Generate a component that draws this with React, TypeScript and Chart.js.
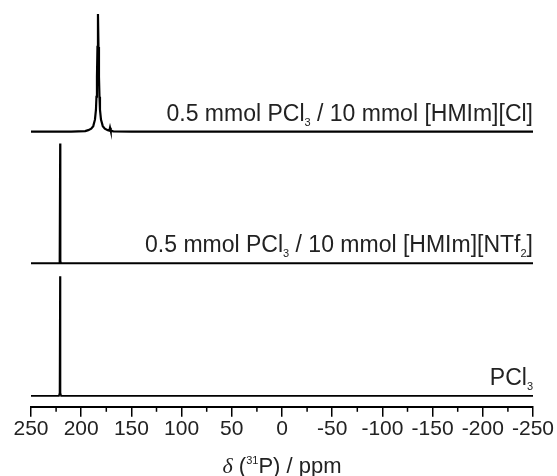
import { useEffect, useRef } from "react";
import { Chart, registerables } from "chart.js";

Chart.register(...registerables);

// Axis ticks (ppm)
const xTicks = [250, 200, 150, 100, 50, 0, -50, -100, -150, -200, -250];
const minorTicks = [225, 175, 125, 75, 25, -25, -75, -125, -175, -225];

// Spectrum 1: 0.5 mmol PCl3 / 10 mmol [HMIm][Cl] (top)
const ppmCl = [250, 230, 210, 196, 193, 190, 188, 186.3, 185.3, 184.8, 184.3, 183.8, 183.3, 182.8, 182.3, 181.8, 181.3, 180.3, 178.5, 176.5, 173.5, 172, 171.3, 170.6, 168, 150, 100, 50, 0, -50, -100, -150, -200, -250];
const intCl = [0, 0, 0, 0.5, 1.5, 3, 5.5, 12, 22, 35, 55, 85, 118, 85, 55, 35, 22, 12, 5.5, 3, 1.5, 1, 4, 1, 0.3, 0, 0, 0, 0, 0, 0, 0, 0, 0];

// Spectrum 2: 0.5 mmol PCl3 / 10 mmol [HMIm][NTf2] (middle)
const ppmNTf2 = [250, 222, 221.6, 221.1, 220.6, 220, -250];
const intNTf2 = [0, 0, 2, 120, 2, 0, 0];

// Spectrum 3: neat PCl3 (bottom)
const ppmPCl3 = [250, 222.2, 221.5, 221.1, 220.7, 220, -250];
const intPCl3 = [0, 0, 3, 120, 3, 0, 0];

// Vertical stacking offsets (intensity units)
const offsetCl = 276;
const offsetNTf2 = 144;
const offsetPCl3 = 11;

const SANS = '"Liberation Sans", Arial, Helvetica, sans-serif';
const SERIF = '"Liberation Serif", "Times New Roman", serif';
const TEXT_COLOR = "#222";

type Seg = { text: string; font: string; dy?: number };

const labelCl: Seg[] = [
  { text: "0.5 mmol PCl", font: `23px ${SANS}` },
  { text: "3", font: `11px ${SANS}`, dy: 5 },
  { text: " / 10 mmol [HMIm][Cl]", font: `23px ${SANS}` },
];
const labelNTf2: Seg[] = [
  { text: "0.5 mmol PCl", font: `23px ${SANS}` },
  { text: "3", font: `11px ${SANS}`, dy: 5 },
  { text: " / 10 mmol [HMIm][NTf", font: `23px ${SANS}` },
  { text: "2", font: `11px ${SANS}`, dy: 5 },
  { text: "]", font: `23px ${SANS}` },
];
const labelPCl3: Seg[] = [
  { text: "PCl", font: `23px ${SANS}` },
  { text: "3", font: `11px ${SANS}`, dy: 5 },
];
const axisTitle: Seg[] = [
  { text: "\u03B4", font: `italic 22px ${SERIF}` },
  { text: " (", font: `22px ${SANS}` },
  { text: "31", font: `11px ${SANS}`, dy: -9 },
  { text: "P) / ppm", font: `22px ${SANS}` },
];

function segWidth(ctx: CanvasRenderingContext2D, segs: Seg[]) {
  let w = 0;
  for (const s of segs) {
    ctx.font = s.font;
    w += ctx.measureText(s.text).width;
  }
  return w;
}

function drawSegs(ctx: CanvasRenderingContext2D, segs: Seg[], xLeft: number, y: number) {
  let x = xLeft;
  for (const s of segs) {
    ctx.font = s.font;
    ctx.fillText(s.text, x, y + (s.dy || 0));
    x += ctx.measureText(s.text).width;
  }
}

const decorPlugin = {
  id: "decor",
  afterDraw(chart: any) {
    const ctx: CanvasRenderingContext2D = chart.ctx;
    const xs = chart.scales.x;
    const ys = chart.scales.y;
    const bottom = chart.chartArea.bottom;
    ctx.save();
    // minor ticks
    ctx.strokeStyle = "#000";
    ctx.lineWidth = 1.5;
    for (const v of minorTicks) {
      const px = xs.getPixelForValue(v);
      ctx.beginPath();
      ctx.moveTo(px, bottom);
      ctx.lineTo(px, bottom + 5);
      ctx.stroke();
    }
    // spectrum labels, right aligned at the right end of the axis
    ctx.fillStyle = TEXT_COLOR;
    ctx.textBaseline = "alphabetic";
    ctx.textAlign = "left";
    const xr = xs.getPixelForValue(-250);
    const items: [Seg[], number][] = [
      [labelCl, offsetCl],
      [labelNTf2, offsetNTf2],
      [labelPCl3, offsetPCl3],
    ];
    for (const [segs, off] of items) {
      const w = segWidth(ctx, segs);
      drawSegs(ctx, segs, xr - w, ys.getPixelForValue(off) - 11);
    }
    // axis title
    const cx = (chart.chartArea.left + chart.chartArea.right) / 2;
    const tw = segWidth(ctx, axisTitle);
    drawSegs(ctx, axisTitle, cx - tw / 2, chart.height - 3);
    ctx.restore();
  },
};

function mk(ppm: number[], ints: number[], off: number) {
  return ppm.map((p, i) => ({ x: p, y: ints[i] + off }));
}

export default function App() {
  const ref = useRef<HTMLCanvasElement | null>(null);
  useEffect(() => {
    if (!ref.current) return;
    const chart = new Chart(ref.current, {
      type: "line",
      data: {
        datasets: [
          { data: mk(ppmCl, intCl, offsetCl), borderColor: "#000", borderWidth: 2.2, pointRadius: 0, tension: 0 },
          { data: mk(ppmNTf2, intNTf2, offsetNTf2), borderColor: "#000", borderWidth: 1.8, pointRadius: 0, tension: 0 },
          { data: mk(ppmPCl3, intPCl3, offsetPCl3), borderColor: "#000", borderWidth: 1.8, pointRadius: 0, tension: 0 },
        ],
      },
      options: {
        animation: false,
        responsive: false,
        devicePixelRatio: 1,
        layout: { padding: { left: 31, right: 24, top: 8, bottom: 34 } },
        plugins: { legend: { display: false }, tooltip: { enabled: false } },
        scales: {
          x: {
            type: "linear",
            min: -250,
            max: 250,
            reverse: true,
            afterBuildTicks: (s: any) => {
              s.ticks = xTicks.map((v) => ({ value: v }));
            },
            ticks: {
              autoSkip: false,
              maxRotation: 0,
              padding: 0,
              color: TEXT_COLOR,
              font: { size: 21, family: SANS },
              callback: (v: any) => String(v),
            },
            grid: { drawOnChartArea: false, drawTicks: true, tickLength: 10, color: "#000", lineWidth: 1.5 },
            border: { display: true, color: "#000", width: 2 },
            title: { display: false },
          },
          y: { display: false, min: 0, max: 400 },
        },
      },
      plugins: [decorPlugin],
    });
    return () => chart.destroy();
  }, []);
  return (
    <div style={{ position: "fixed", left: 0, top: 0, width: 557, height: 476, background: "#fff" }}>
      <canvas ref={ref} width={557} height={476} />
    </div>
  );
}
